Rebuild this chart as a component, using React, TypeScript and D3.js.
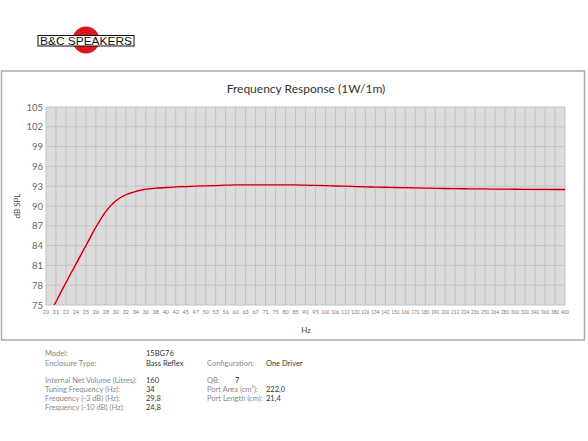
import React, { useEffect, useRef } from "react";
import * as d3 from "d3";

// 1/12 octave frequency labels used on the x axis
const freqLabels = [
  "20", "21", "22", "24", "25", "26", "28", "30", "32", "34", "36", "38", "40", "42", "45", "47", "50", "53",
  "56", "60", "63", "67", "71", "75", "80", "85", "90", "95", "100", "106", "112", "120", "126", "134",
  "142", "150", "160", "170", "180", "190", "200", "212", "224", "236", "250", "264", "280", "300", "320",
  "340", "360", "380", "400",
];

// SPL (dB) read at each frequency label
const splValues = [
  72.7, 75.5, 78.4, 81.2, 84.0, 86.8, 89.2, 90.8, 91.7, 92.2, 92.55, 92.7, 92.8, 92.9, 92.95, 93.0, 93.05,
  93.1, 93.15, 93.2, 93.2, 93.2, 93.2, 93.2, 93.2, 93.2, 93.15, 93.12, 93.08, 93.03, 93.0, 92.95, 92.9,
  92.87, 92.84, 92.8, 92.77, 92.74, 92.71, 92.68, 92.65, 92.63, 92.61, 92.59, 92.58, 92.56, 92.55, 92.54,
  92.53, 92.52, 92.51, 92.5, 92.5,
];

const yTicks = [75, 78, 81, 84, 87, 90, 93, 96, 99, 102, 105];

const infoLeft = [
  ["Model:", "15BG76", 356],
  ["Enclosure Type:", "Bass Reflex", 366],
  ["Internal Net Volume (Litres):", "160", 383],
  ["Tuning Frequency (Hz):", "34", 392],
  ["Frequency (-3 dB) (Hz):", "29,8", 401],
  ["Frequency (-10 dB) (Hz):", "24,8", 410],
];
const infoRight = [
  ["Configuration:", "One Driver", 366],
  ["QB:", "7", 383],
  ["Port Area (cm²):", "222,0", 392],
  ["Port Length (cm):", "21,4", 401],
];

const W = 588;
const H = 441;
const font = "Lato, 'Open Sans', sans-serif";

export default function App() {
  const ref = useRef<SVGSVGElement>(null);

  useEffect(() => {
    const svg = d3.select(ref.current);
    svg.selectAll("*").remove();

    const margin = { top: 107, right: 23, bottom: 136, left: 46 };
    const x = d3.scalePoint().domain(freqLabels).range([margin.left, W - margin.right]);
    const y = d3.scaleLinear().domain([75, 105]).range([H - margin.bottom, margin.top]);

    // logo
    const logo = svg.append("g");
    logo.append("circle").attr("cx", 86).attr("cy", 40).attr("r", 13.5).attr("fill", "#e0161e");
    logo.append("rect").attr("x", 38).attr("y", 35.5).attr("width", 96).attr("height", 10.5)
      .attr("fill", "#fff").attr("stroke", "#111").attr("stroke-width", 1);
    logo.append("text").attr("x", 40).attr("y", 44.5).attr("textLength", 92).attr("lengthAdjust", "spacingAndGlyphs")
      .attr("font-family", "'Liberation Sans', Arial, sans-serif").attr("font-size", 11).attr("fill", "#111")
      .text("B&C SPEAKERS");

    // frame
    svg.append("rect").attr("x", 1.5).attr("y", 71).attr("width", 583).attr("height", 269)
      .attr("fill", "#fff").attr("stroke", "#aaa").attr("stroke-width", 1.5);

    svg.append("text").attr("x", 306).attr("y", 93).attr("text-anchor", "middle")
      .attr("font-family", font).attr("font-size", 12).attr("fill", "#333")
      .text("Frequency Response (1W/1m)");

    // plot background
    svg.append("rect").attr("x", margin.left).attr("y", margin.top)
      .attr("width", W - margin.right - margin.left).attr("height", H - margin.bottom - margin.top)
      .attr("fill", "#dcdcdc");

    const grid = svg.append("g").attr("stroke", "#c2c2c2").attr("stroke-width", 1);
    grid.selectAll("line.v").data(freqLabels).join("line").attr("class", "v")
      .attr("x1", d => x(d)!).attr("x2", d => x(d)!)
      .attr("y1", margin.top).attr("y2", H - margin.bottom);
    grid.selectAll("line.h").data(yTicks).join("line").attr("class", "h")
      .attr("y1", d => y(d)).attr("y2", d => y(d))
      .attr("x1", margin.left).attr("x2", W - margin.right);

    // axes labels
    const yAxis = svg.append("g").attr("font-family", font).attr("font-size", 9.5).attr("fill", "#666")
      .attr("text-anchor", "end");
    yAxis.selectAll("text").data(yTicks).join("text")
      .attr("x", margin.left - 3).attr("y", d => y(d) + 3.5).text(d => d);

    const xAxis = svg.append("g").attr("font-family", font).attr("font-size", 5.4).attr("fill", "#777")
      .attr("text-anchor", "middle");
    xAxis.selectAll("text").data(freqLabels).join("text")
      .attr("x", d => x(d)!).attr("y", H - margin.bottom + 9)
      .attr("textLength", d => (d.length > 2 ? 8.2 : null))
      .attr("lengthAdjust", "spacingAndGlyphs")
      .text(d => d);

    svg.append("text").attr("x", 306).attr("y", 333).attr("text-anchor", "middle")
      .attr("font-family", font).attr("font-size", 8).attr("fill", "#444").text("Hz");

    svg.append("text").attr("transform", `translate(20,${(margin.top + H - margin.bottom) / 2}) rotate(-90)`)
      .attr("text-anchor", "middle").attr("font-family", font).attr("font-size", 8).attr("fill", "#444")
      .text("dB SPL");

    // response curve
    svg.append("clipPath").attr("id", "plotClip").append("rect")
      .attr("x", margin.left).attr("y", margin.top)
      .attr("width", W - margin.right - margin.left).attr("height", H - margin.bottom - margin.top);

    const line = d3.line<number>()
      .x((_, i) => x(freqLabels[i])!)
      .y(d => y(d))
      .curve(d3.curveMonotoneX);

    const curve = svg.append("g").attr("clip-path", "url(#plotClip)").attr("fill", "none");
    curve.append("path").datum(splValues).attr("d", line).attr("stroke", "#ffc4c4").attr("stroke-width", 3.5);
    curve.append("path").datum(splValues).attr("d", line).attr("stroke", "#a3001a").attr("stroke-width", 1.3);

    // info table
    const info = svg.append("g").attr("font-family", font).attr("font-size", 7.5);
    infoLeft.forEach(([label, value, yy]) => {
      info.append("text").attr("x", 45).attr("y", yy as number).attr("fill", "#888").text(label as string);
      info.append("text").attr("x", 146).attr("y", yy as number).attr("fill", "#333").text(value as string);
    });
    infoRight.forEach(([label, value, yy]) => {
      info.append("text").attr("x", 207).attr("y", yy as number).attr("fill", "#888").text(label as string);
      info.append("text").attr("x", label === "QB:" ? 235 : 266).attr("y", yy as number).attr("fill", "#333")
        .text(value as string);
    });
  }, []);

  return (
    <svg ref={ref} width={W} height={H} style={{ position: "absolute", left: 0, top: 0, background: "#fff" }} />
  );
}
